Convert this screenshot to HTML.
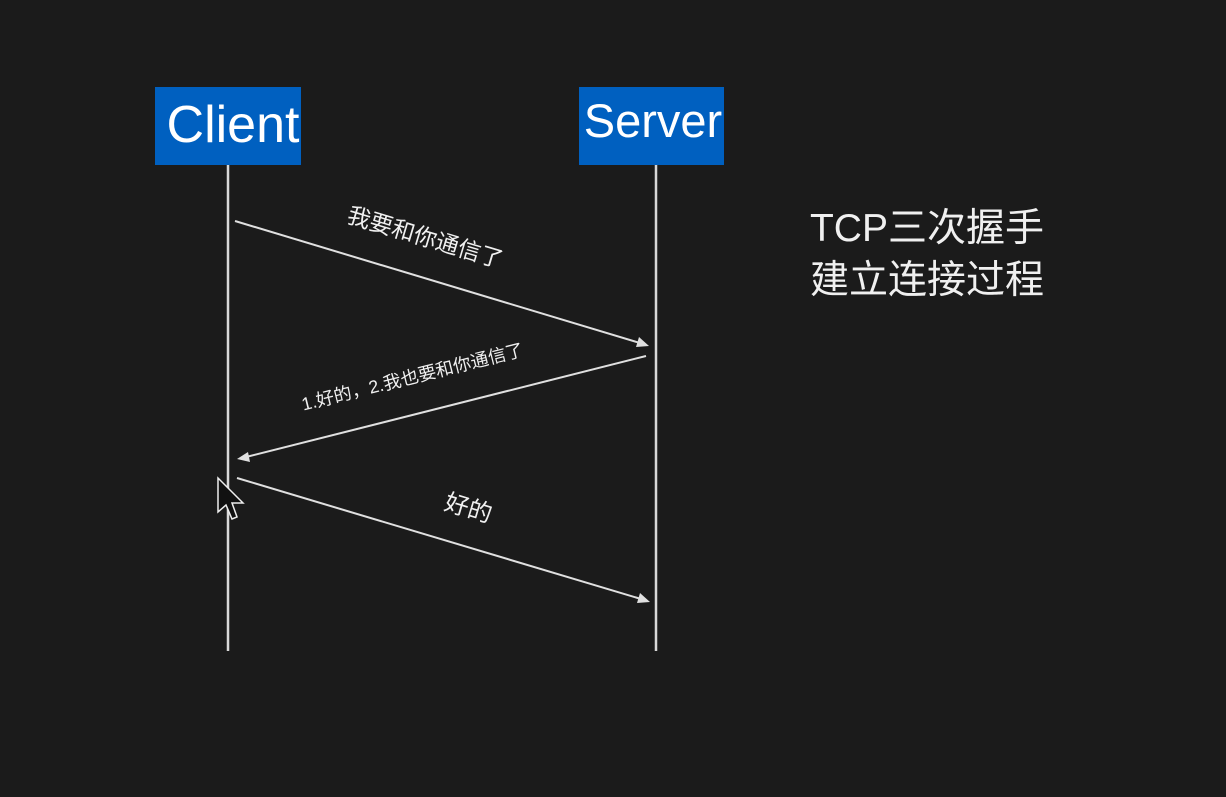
<!DOCTYPE html>
<html><head><meta charset="utf-8"><style>
html,body{margin:0;padding:0;background:#1b1b1b;width:1226px;height:797px;overflow:hidden}
</style></head><body>
<svg width="1226" height="797" xmlns="http://www.w3.org/2000/svg" font-family="'Liberation Sans','Noto Sans CJK SC',sans-serif">
<rect width="1226" height="797" fill="#1b1b1b"/>
<rect x="155" y="87" width="146" height="78" fill="#0060c0"/>
<rect x="579" y="87" width="145" height="78" fill="#0060c0"/>
<text x="233" y="142" fill="#fff" font-size="52" text-anchor="middle">Client</text>
<text x="653" y="137" fill="#fff" font-size="47" text-anchor="middle">Server</text>
<g stroke="#d8d8d8" stroke-width="2.5">
<line x1="228" y1="165" x2="228" y2="651"/>
<line x1="656" y1="165" x2="656" y2="651"/>
</g>
<g stroke="#e0e0e0" stroke-width="2" fill="#e0e0e0">
<line x1="235" y1="221" x2="640" y2="343"/>
<polygon points="649,346 636,347 639,337" stroke="none"/>
<line x1="646" y1="356" x2="246" y2="457"/>
<polygon points="237,459 248,452 250,462" stroke="none"/>
<line x1="237" y1="478" x2="641" y2="599"/>
<polygon points="650,602 637,603 640,593" stroke="none"/>
</g>
<g fill="#f0f0f0">
<text transform="translate(423,245) rotate(16.7)" font-size="23" text-anchor="middle">我要和你通信了</text>
<text transform="translate(414,383) rotate(-14)" font-size="18" text-anchor="middle">1.好的，2.我也要和你通信了</text>
<text transform="translate(466,516) rotate(16.7)" font-size="24" text-anchor="middle">好的</text>
<text x="927" y="241" font-size="39" text-anchor="middle">TCP三次握手</text>
<text x="927" y="293" font-size="39" text-anchor="middle">建立连接过程</text>
</g>
<polygon points="218,478 218,512 226,505 232,519 237,517 232,503 243,503" fill="#111" stroke="#eee" stroke-width="1.5"/>
</svg>
</body></html>
